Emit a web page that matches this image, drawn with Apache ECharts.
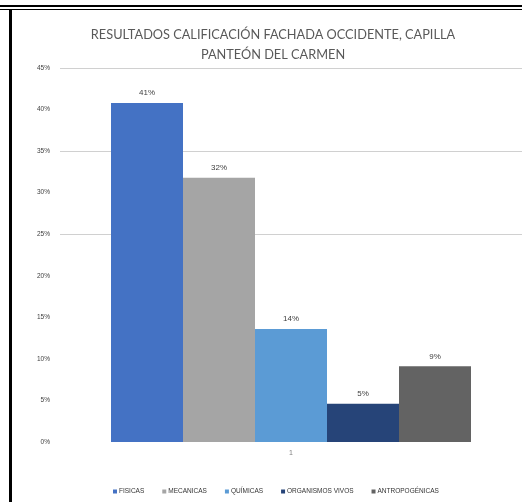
<!DOCTYPE html>
<html>
<head>
<meta charset="utf-8">
<script src="https://cdn.jsdelivr.net/npm/echarts@6/dist/echarts.min.js"></script>
<style>
html,body{margin:0;padding:0;background:#fff;}
#c{width:522px;height:502px;}
</style>
</head>
<body>
<div id="c"></div>
<script>
const categories = ['1'];
const seriesNames = ['FISICAS', 'MECANICAS', 'QUÍMICAS', 'ORGANISMOS VIVOS', 'ANTROPOGÉNICAS'];
const seriesValues = [40.8, 31.8, 13.6, 4.6, 9.1];
const seriesColors = ['#4472C4', '#A5A5A5', '#5B9BD5', '#264478', '#636363'];
const gridLineValues = [25, 35, 45];
const titleText = 'RESULTADOS CALIFICACIÓN FACHADA OCCIDENTE, CAPILLA\nPANTEÓN DEL CARMEN';

const chart = echarts.init(document.getElementById('c'));
const series = seriesNames.map((name, i) => {
  const s = {
    name: name,
    type: 'bar',
    data: [seriesValues[i]],
    barWidth: 72,
    barGap: '0%',
    itemStyle: { color: seriesColors[i] },
    label: {
      show: true,
      position: 'top',
      distance: 6,
      fontFamily: 'Liberation Sans',
      fontSize: 8,
      color: '#404040',
      formatter: p => Math.round(p.value) + '%'
    }
  };
  if (i === 0) {
    s.markLine = {
      silent: true,
      symbol: 'none',
      label: { show: false },
      lineStyle: { color: '#d0d0d0', type: 'solid', width: 1 },
      data: gridLineValues.map(v => ({ yAxis: v })),
      z: 0
    };
  }
  return s;
});

chart.setOption({
  animation: false,
  title: {
    text: titleText,
    left: 268,
    textAlign: 'center',
    top: 20,
    textStyle: {
      fontFamily: 'Lato',
      fontSize: 12.75,
      fontWeight: 'normal',
      color: '#595959',
      lineHeight: 20
    }
  },
  legend: {
    bottom: 2,
    left: 108,
    itemWidth: 4,
    itemHeight: 4,
    itemGap: 18,
    icon: 'rect',
    textStyle: { fontFamily: 'Liberation Sans', fontSize: 6.5, color: '#333333', padding: [0, 0, 0, -3] },
    data: seriesNames
  },
  grid: { left: 60, right: 0, top: 68, bottom: 60 },
  xAxis: {
    type: 'category',
    data: categories,
    axisLine: { show: false },
    axisTick: { show: false },
    axisLabel: { fontSize: 7, color: '#808080', margin: 8 }
  },
  yAxis: {
    type: 'value',
    min: 0,
    max: 45,
    interval: 5,
    splitLine: { show: false },
    axisLine: { show: false },
    axisTick: { show: false },
    axisLabel: { fontSize: 6.5, color: '#404040', margin: 10, formatter: v => v + '%' }
  },
  graphic: [
    { type: 'rect', shape: { x: 0, y: 5, width: 522, height: 2 }, style: { fill: '#000' } },
    { type: 'rect', shape: { x: 0, y: 9, width: 522, height: 1 }, style: { fill: '#000' } },
    { type: 'rect', shape: { x: 9, y: 9, width: 3, height: 493 }, style: { fill: '#000' } }
  ],
  series: series
});
</script>
</body>
</html>
